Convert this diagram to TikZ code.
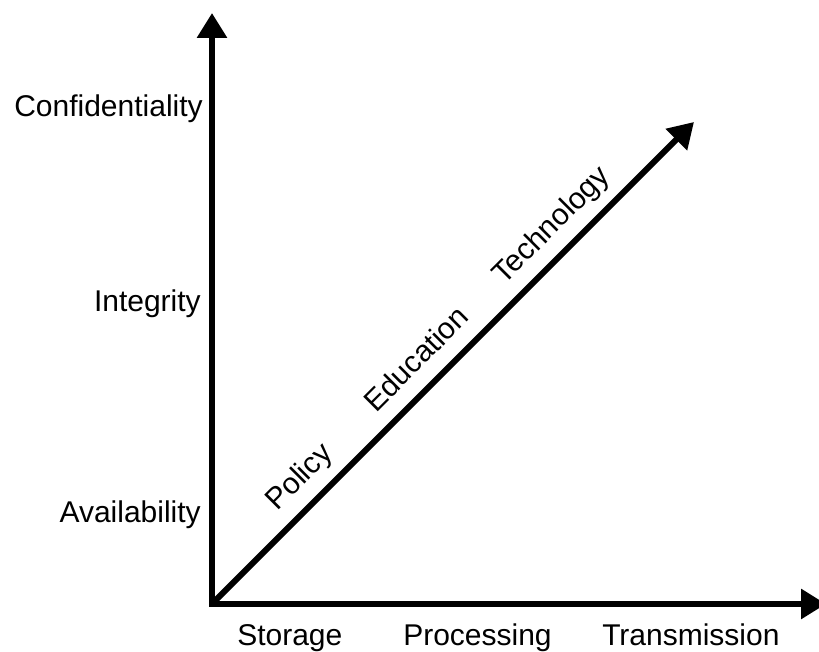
\documentclass[tikz,border=0pt]{standalone}
\usepackage{fontspec}
\setmainfont{Liberation Sans}
\usetikzlibrary{arrows.meta,calc,positioning}
\tikzset{%
	axis/.style      = {line width=4.5pt, >={Triangle[width=21.75pt, length=18.75pt]}}, % Thick axis with solid head
	dimlabel/.style  = {font=\fontsize{22.5}{27}\selectfont, inner sep=0pt},
	waypoint/.style  = {coordinate},
}

\begin{document}
\begin{tikzpicture}[x=0.75pt, y=0.75pt]
	\useasboundingbox (0,0) rectangle (819,652);
	\coordinate (o) at (212,48);
	\coordinate (ytip) at (212,639);
	\coordinate (xtip) at (826,48);
	\coordinate (dtip) at (694,530);
	
	\draw[axis,<->] (ytip) -- (o) -- (xtip);
	\draw[axis,->] (o) -- (dtip);
	
	% goals
	\node[dimlabel, anchor=base east] (conf) at (203,535) {Confidentiality};
	\node[dimlabel, anchor=base east] (integ) at (201,340) {Integrity};
	\node[dimlabel, anchor=base east] (avail) at (201,129) {Availability};
	
	% states
	\node[dimlabel, anchor=base west] (stor) at (237,6) {Storage};
	\node[dimlabel, anchor=base west] (proc) at (403,6) {Processing};
	\node[dimlabel, anchor=base west] (trans) at (602,6) {Transmission};
	
	% measures, along the diagonal
	\node[dimlabel, rotate=45, anchor=base] (pol) at ($(o)!0.222!(dtip)+(-13.4,13.4)$) {Policy};
	\node[dimlabel, rotate=45, anchor=base] (edu) at ($(o)!0.466!(dtip)+(-13.4,13.4)$) {Education};
	\node[dimlabel, rotate=45, anchor=base] (tech) at ($(o)!0.745!(dtip)+(-13.4,13.4)$) {Technology};
\end{tikzpicture}
\end{document}
